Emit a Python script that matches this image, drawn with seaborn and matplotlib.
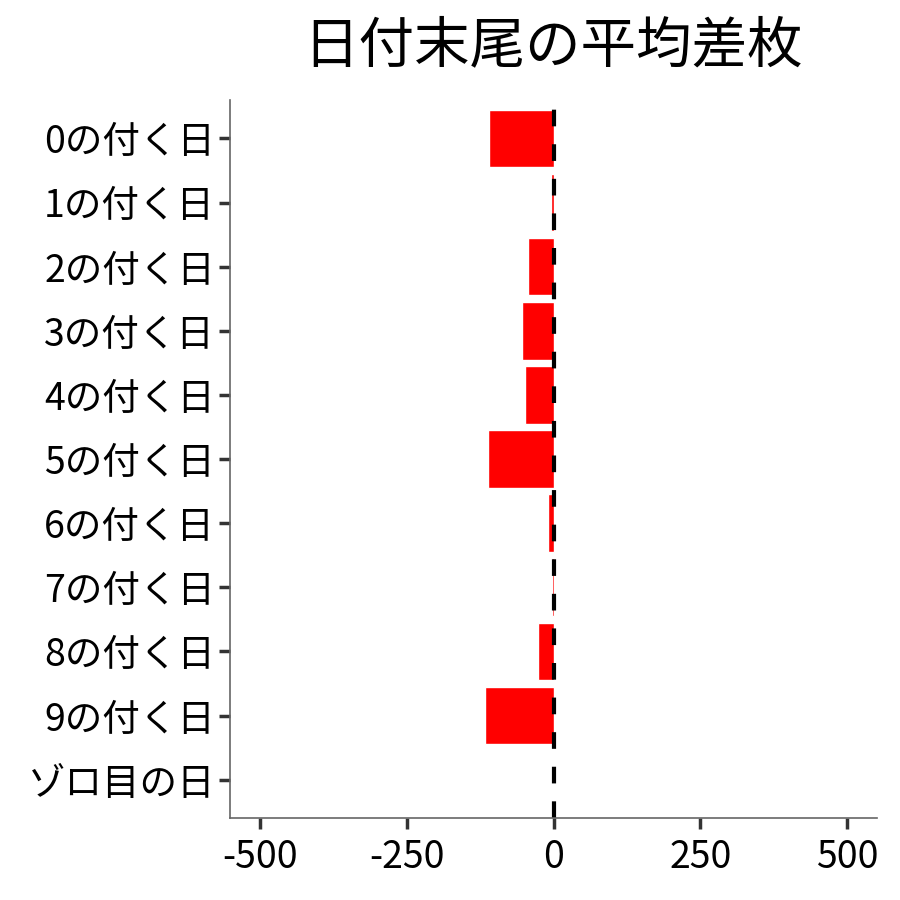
import matplotlib
matplotlib.use('Agg')
import matplotlib.pyplot as plt
import seaborn as sns
import pandas as pd

sns.set_theme(style='white')
plt.rcParams['font.family'] = ['Noto Sans CJK JP', 'DejaVu Sans']

# data
categories = ['0の付く日', '1の付く日', '2の付く日', '3の付く日', '4の付く日',
              '5の付く日', '6の付く日', '7の付く日', '8の付く日', '9の付く日', 'ゾロ目の日']
mean_diff = [-110, -5, -44, -54, -48, -111, -10, -3, -26, -116, 0]
x_ticks = [-500, -250, 0, 250, 500]

df = pd.DataFrame({'day': categories, 'diff': mean_diff})

fig = plt.figure(figsize=(9, 9), dpi=100)
ax = fig.add_axes([0.256, 0.091, 0.718, 0.798])

sns.barplot(data=df, x='diff', y='day', order=categories, color='#ff0000',
            saturation=1, width=0.9, ax=ax)
ax.axvline(0, color='black', linestyle=(0, (4, 4.3)), linewidth=3)

ax.set_xlim(-550, 550)
ax.set_ylim(len(categories) - 1 + 0.6, -0.6)
ax.set_xticks(x_ticks)
ax.set_xticklabels([str(v) for v in x_ticks])
ax.set_xlabel('')
ax.set_ylabel('')

for s in ['top', 'right']:
    ax.spines[s].set_visible(False)
for s in ['left', 'bottom']:
    ax.spines[s].set_color('#666666')
    ax.spines[s].set_linewidth(1.2)

ax.tick_params(axis='both', which='major', direction='out', length=8, width=2.5,
               color='#333333', labelsize=27, labelcolor='black', pad=3, left=True, bottom=True)
ax.tick_params(axis='x', pad=6)

fig.text(0.614, 0.948, '日付末尾の平均差枚', ha='center', va='center', fontsize=40, color='black')

fig.savefig('out.png', dpi=100)
